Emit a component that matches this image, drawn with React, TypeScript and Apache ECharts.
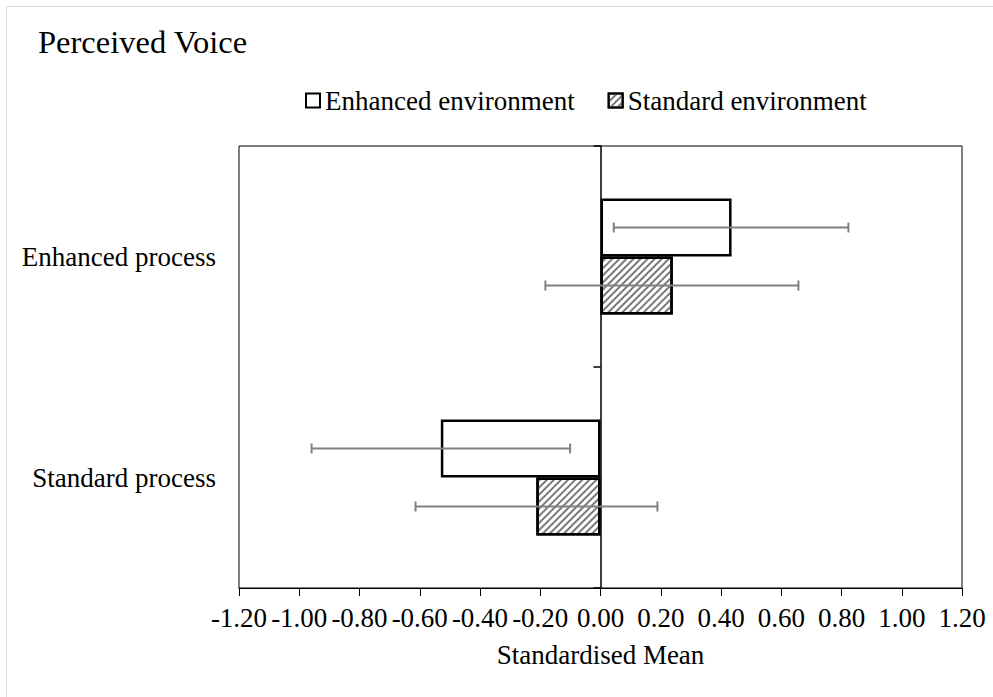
import React, { useEffect, useRef } from "react";
import * as echarts from "echarts";

const categories = ["Enhanced process", "Standard process"];
const seriesNames = ["Enhanced environment", "Standard environment"];
const enhancedEnvMeans = [0.435, -0.53];
const standardEnvMeans = [0.24, -0.213];
// [low, high] of the error bars per category
const enhancedEnvErr = [
  [0.044, 0.823],
  [-0.959, -0.101],
];
const standardEnvErr = [
  [-0.183, 0.657],
  [-0.614, 0.189],
];
const axisMin = -1.2;
const axisMax = 1.2;
const axisStep = 0.2;

const FONT = "'Liberation Serif', 'Times New Roman', serif";
const CAT_GAP = 0.475;
const FS = 27;

export default function App() {
  const ref = useRef<HTMLDivElement>(null);
  useEffect(() => {
    if (!ref.current) return;
    const chart = echarts.init(ref.current, undefined, { renderer: "svg" });

    const hatch = {
      symbol: "rect",
      symbolSize: 1,
      dashArrayX: [1, 0],
      dashArrayY: [1.4, 3],
      rotation: -Math.PI / 4,
      color: "#7a7a7a",
      backgroundColor: "#ffffff",
    };

    const makeErr = (side: number) => (params: any, api: any) => {
      const cat = api.value(0);
      const lo = api.value(1);
      const hi = api.value(2);
      const c = api.coord([0, cat]);
      const band = api.size([0, 1])[1];
      const y = c[1] + side * band * ((1 - CAT_GAP) / 4);
      const x1 = api.coord([lo, cat])[0];
      const x2 = api.coord([hi, cat])[0];
      const st = { stroke: "#808080", lineWidth: 2 };
      return {
        type: "group",
        children: [
          { type: "line", shape: { x1, y1: y, x2, y2: y }, style: st },
          { type: "line", shape: { x1, y1: y - 5, x2: x1, y2: y + 5 }, style: st },
          { type: "line", shape: { x1: x2, y1: y - 5, x2, y2: y + 5 }, style: st },
        ],
      };
    };

    chart.setOption({
      animation: false,
      backgroundColor: "#ffffff",
      textStyle: { fontFamily: FONT },
      title: {
        text: "Perceived Voice",
        left: 38,
        top: 25,
        padding: 0,
        textStyle: { fontFamily: FONT, fontSize: 32.5, fontWeight: "normal", color: "#000" },
      },
      graphic: [
        { type: "line", shape: { x1: 6.5, y1: 6.5, x2: 993, y2: 6.5 }, style: { stroke: "#d9d9d9", lineWidth: 1 } },
        { type: "line", shape: { x1: 6.5, y1: 6.5, x2: 6.5, y2: 697 }, style: { stroke: "#d9d9d9", lineWidth: 1 } },
      ],
      legend: {
        data: seriesNames,
        left: 305,
        top: 87,
        padding: 0,
        itemWidth: 14,
        itemHeight: 14,
        itemGap: 33,
        icon: "rect",
        textStyle: { fontFamily: FONT, fontSize: FS, color: "#000" },
      },
      grid: {
        left: 239,
        right: 31,
        top: 146,
        bottom: 109,
        show: true,
        borderColor: "#000",
        borderWidth: 1,
        backgroundColor: "transparent",
      },
      xAxis: {
        type: "value",
        min: axisMin,
        max: axisMax,
        interval: axisStep,
        name: "Standardised Mean",
        nameLocation: "middle",
        nameGap: 53,
        nameTextStyle: { fontFamily: FONT, fontSize: FS, color: "#000" },
        axisLine: { show: true, onZero: false, lineStyle: { color: "#000", width: 1 } },
        axisTick: { show: true, length: 8, lineStyle: { color: "#000", width: 1 } },
        splitLine: { show: false },
        axisLabel: {
          margin: 16,
          fontFamily: FONT,
          fontSize: FS,
          color: "#000",
          formatter: (v: number) => v.toFixed(2),
        },
      },
      yAxis: [
        {
          type: "category",
          data: categories,
          inverse: true,
          axisLine: { show: false, onZero: false },
          axisTick: { show: false },
          splitLine: { show: false },
          axisLabel: { margin: 23, fontFamily: FONT, fontSize: FS, color: "#000" },
        },
        {
          type: "category",
          data: categories,
          inverse: true,
          position: "left",
          axisLine: { show: true, onZero: true, onZeroAxisIndex: 0, lineStyle: { color: "#000", width: 1.5 } },
          axisTick: { show: true, length: 7, lineStyle: { color: "#000", width: 1.5 } },
          axisLabel: { show: false },
          splitLine: { show: false },
        },
      ],
      series: [
        {
          name: seriesNames[0],
          type: "bar",
          yAxisIndex: 0,
          data: enhancedEnvMeans,
          barCategoryGap: CAT_GAP * 100 + "%",
          barGap: "0%",
          itemStyle: { color: "#ffffff", borderColor: "#000", borderWidth: 2.5 },
          z: 2,
        },
        {
          name: seriesNames[1],
          type: "bar",
          yAxisIndex: 0,
          data: standardEnvMeans,
          barCategoryGap: CAT_GAP * 100 + "%",
          barGap: "0%",
          itemStyle: { color: "#ffffff", borderColor: "#000", borderWidth: 2.5, decal: hatch },
          z: 2,
        },
        {
          name: "err-enh",
          type: "custom",
          yAxisIndex: 0,
          renderItem: makeErr(-1),
          encode: { x: [1, 2], y: 0 },
          data: enhancedEnvErr.map((e, i) => [i, e[0], e[1]]),
          z: 5,
        },
        {
          name: "err-std",
          type: "custom",
          yAxisIndex: 0,
          renderItem: makeErr(1),
          encode: { x: [1, 2], y: 0 },
          data: standardEnvErr.map((e, i) => [i, e[0], e[1]]),
          z: 5,
        },
      ],
    });
    return () => chart.dispose();
  }, []);
  return (
    <div
      ref={ref}
      style={{ position: "fixed", left: 0, top: 0, width: 993, height: 697 }}
    />
  );
}
